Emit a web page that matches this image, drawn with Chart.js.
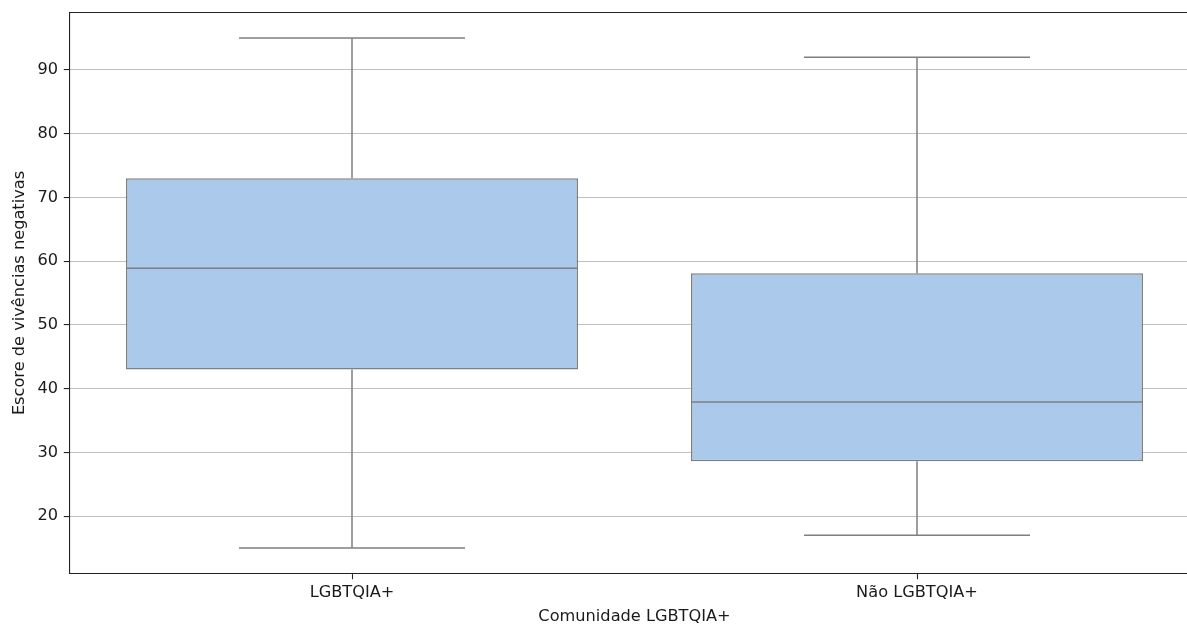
<!DOCTYPE html>
<html lang="pt">
<head>
<meta charset="utf-8">
<title>Escore de vivências negativas por comunidade</title>
<script src="https://cdn.jsdelivr.net/npm/chart.js@4.4.1/dist/chart.umd.min.js"></script>
<style>
  html, body { margin: 0; padding: 0; background: #ffffff; overflow: hidden; }
  #wrap { position: absolute; left: 0; top: 0; width: 1210px; height: 625px; }
</style>
</head>
<body>
<div id="wrap"><canvas id="chart" width="1210" height="625"></canvas></div>
<script>
// Box-plot summary per group
const categories   = ['LGBTQIA+', 'Não LGBTQIA+'];
const whiskerLow   = [15, 17];
const quartile1    = [43, 28.6];
const median       = [58.9, 37.9];
const quartile3    = [73, 58.1];
const whiskerHigh  = [95, 92];

// Value axis
const yMin = 11;
const yMax = 99;
const yStep = 10;

const boxFill = '#abc9ea';
const boxEdge = '#7f7f7f';
const spine = '#222222';
const textColor = '#1a1a1a';
const fontFamily = '"DejaVu Sans", sans-serif';

// Whiskers, caps and medians drawn through the chart scales
const boxPlotPlugin = {
  id: 'boxPlotParts',
  afterDatasetsDraw(chart) {
    const { ctx, scales: { x, y }, chartArea } = chart;
    const meta = chart.getDatasetMeta(0);
    ctx.save();
    ctx.strokeStyle = boxEdge;
    ctx.lineWidth = 1.5;
    ctx.lineCap = 'butt';
    categories.forEach((_, i) => {
      const bar = meta.data[i];
      const cx = x.getPixelForValue(i);
      const half = bar.width / 2;
      const capHalf = half / 2;
      const yLo = y.getPixelForValue(whiskerLow[i]);
      const yQ1 = y.getPixelForValue(quartile1[i]);
      const yMed = y.getPixelForValue(median[i]);
      const yQ3 = y.getPixelForValue(quartile3[i]);
      const yHi = y.getPixelForValue(whiskerHigh[i]);
      ctx.beginPath();
      // whiskers
      ctx.moveTo(cx, yQ1); ctx.lineTo(cx, yLo);
      ctx.moveTo(cx, yQ3); ctx.lineTo(cx, yHi);
      // caps
      ctx.moveTo(cx - capHalf, yLo); ctx.lineTo(cx + capHalf, yLo);
      ctx.moveTo(cx - capHalf, yHi); ctx.lineTo(cx + capHalf, yHi);
      // median
      ctx.moveTo(cx - half, yMed); ctx.lineTo(cx + half, yMed);
      ctx.stroke();
    });
    // top spine
    ctx.strokeStyle = spine;
    ctx.lineWidth = 1.1;
    ctx.beginPath();
    ctx.moveTo(chartArea.left, chartArea.top);
    ctx.lineTo(chartArea.right, chartArea.top);
    ctx.stroke();
    ctx.restore();
  }
};

new Chart(document.getElementById('chart'), {
  type: 'bar',
  data: {
    labels: categories,
    datasets: [{
      data: categories.map((_, i) => [quartile1[i], quartile3[i]]),
      backgroundColor: boxFill,
      borderColor: boxEdge,
      borderWidth: 1.5,
      borderSkipped: false,
      barPercentage: 0.8,
      categoryPercentage: 1.0
    }]
  },
  options: {
    responsive: false,
    animation: false,
    devicePixelRatio: 1,
    layout: { padding: { top: 12.5, right: 10.5, bottom: 0, left: 0 } },
    plugins: {
      legend: { display: false },
      tooltip: { enabled: false }
    },
    scales: {
      x: {
        type: 'category',
        offset: true,
        afterFit(scale) {
          scale.height = 51.5;
          scale.paddingLeft = 0;
          scale.paddingRight = 0;
        },
        grid: {
          display: true,
          drawOnChartArea: false,
          drawTicks: true,
          offset: false,
          tickLength: 5.7,
          tickWidth: 1.1,
          tickColor: spine
        },
        border: { display: true, color: spine, width: 1.1 },
        ticks: {
          color: textColor,
          padding: 3.9,
          font: { family: fontFamily, size: 16.2 }
        },
        title: {
          display: true,
          text: 'Comunidade LGBTQIA+',
          color: textColor,
          font: { family: fontFamily, size: 16.2, lineHeight: 1.2 },
          padding: { top: 0, bottom: -2 }
        }
      },
      y: {
        type: 'linear',
        min: yMin,
        max: yMax,
        afterFit(scale) {
          scale.width = 69.5;
          scale.paddingTop = 0;
          scale.paddingBottom = 0;
        },
        grid: {
          color: '#bfbfbf',
          lineWidth: 1.1,
          drawTicks: true,
          tickLength: 5.7,
          tickWidth: 1.1,
          tickColor: spine
        },
        border: { display: true, color: spine, width: 1.1 },
        ticks: {
          stepSize: yStep,
          includeBounds: false,
          color: textColor,
          padding: 5.7,
          font: { family: fontFamily, size: 16.2 }
        },
        title: {
          display: true,
          text: 'Escore de vivências negativas',
          color: textColor,
          font: { family: fontFamily, size: 16.2, lineHeight: 1.2 },
          padding: { top: 9.8, bottom: 0 }
        }
      }
    }
  },
  plugins: [boxPlotPlugin]
});
</script>
</body>
</html>
